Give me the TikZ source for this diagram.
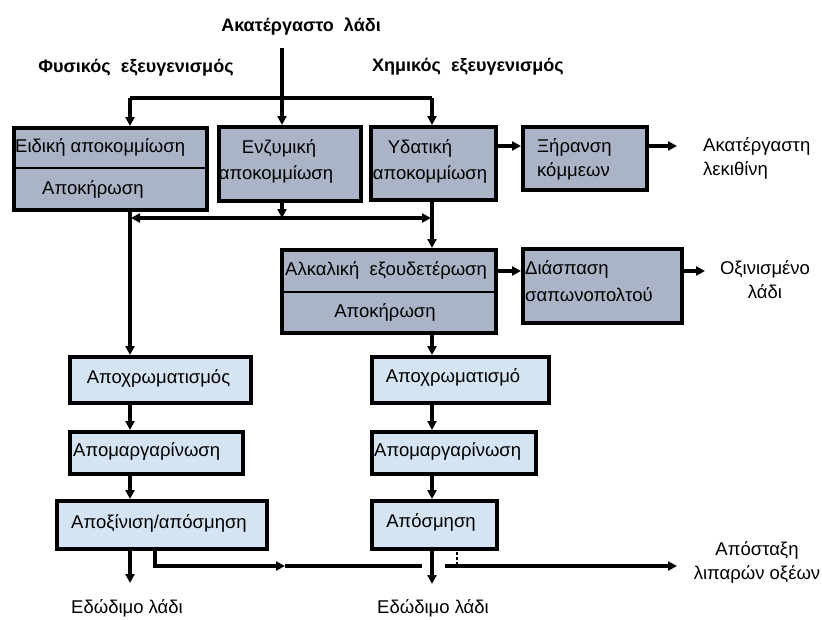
\documentclass[tikz,border=0pt]{standalone}
\usepackage{fontspec}
\setmainfont{Liberation Sans}
\usetikzlibrary{arrows.meta}
\definecolor{darkfill}{RGB}{170,180,198}
\definecolor{lightfill}{RGB}{212,228,242}
\tikzset{
  darkbox/.style={draw=black, line width=3.5pt, fill=darkfill, inner sep=0pt, anchor=north west},
  lightbox/.style={draw=black, line width=3.5pt, fill=lightfill, inner sep=0pt, anchor=north west},
  lbl/.style={inner sep=0pt, font=\fontsize{18.5}{24}\selectfont},
  title/.style={inner sep=0pt, font=\fontsize{18}{22}\selectfont\bfseries},
  conn/.style={line width=3.2pt},
  arr/.style={line width=3.2pt, -{Triangle[length=9pt,width=9pt]}},
  dotline/.style={line width=2.4pt, dash pattern=on 2.5pt off 2.5pt},
}
\begin{document}
\begin{tikzpicture}[x=1pt,y=-1pt]
\useasboundingbox (0,0) rectangle (822,619);
% titles
\node[title] (tin) at (301,27) {Ακατέργαστο\ \ λάδι};
\node[title] (tphys) at (136,68) {Φυσικός\ \ εξευγενισμός};
\node[title] (tchem) at (468,67) {Χημικός\ \ εξευγενισμός};
% boxes
\node[darkbox, minimum width=193pt, minimum height=82pt] (B1) at (12,126) {};
\node[darkbox, minimum width=142pt, minimum height=74pt] (B2) at (217,125) {};
\node[darkbox, minimum width=125pt, minimum height=73pt] (B3) at (369,125) {};
\node[darkbox, minimum width=124pt, minimum height=63pt] (B4) at (521,125) {};
\node[darkbox, minimum width=214pt, minimum height=83pt] (B5) at (280,248) {};
\node[darkbox, minimum width=159pt, minimum height=74pt] (B6) at (521,247) {};
\node[lightbox, minimum width=181pt, minimum height=46pt] (B7) at (68,355) {};
\node[lightbox, minimum width=173pt, minimum height=42pt] (B8) at (68,430) {};
\node[lightbox, minimum width=210pt, minimum height=48pt] (B9) at (55,499) {};
\node[lightbox, minimum width=177pt, minimum height=46pt] (B10) at (370,355) {};
\node[lightbox, minimum width=164pt, minimum height=42pt] (B11) at (370,430) {};
\node[lightbox, minimum width=125pt, minimum height=48pt] (B12) at (370,499) {};
% dividers
\draw[line width=2.6pt] (B1.west |- 0,168) -- (B1.east |- 0,168);
\draw[line width=2.6pt] (B5.west |- 0,292) -- (B5.east |- 0,292);
% box texts
\node[lbl, anchor=west] (t1a) at (15,147) {Ειδική αποκομμίωση};
\node[lbl, anchor=west] (t1b) at (42,189) {Αποκήρωση};
\node[lbl] (t2a) at (279,148) {Ενζυμική};
\node[lbl] (t2b) at (276,174) {αποκομμίωση};
\node[lbl] (t3a) at (420,148) {Υδατική};
\node[lbl] (t3b) at (430,174) {αποκομμίωση};
\node[lbl, anchor=west] (t4a) at (537,147) {Ξήρανση};
\node[lbl, anchor=west] (t4b) at (537,171) {κόμμεων};
\node[lbl, anchor=west] (t5a) at (285,270) {Αλκαλική\ \ εξουδετέρωση};
\node[lbl] (t5b) at (385,312) {Αποκήρωση};
\node[lbl, anchor=west] (t6a) at (525,269) {Διάσπαση};
\node[lbl, anchor=west] (t6b) at (525,295) {σαπωνοπολτού};
\node[lbl] (t7) at (158.5,378) {Αποχρωματισμός};
\node[lbl, anchor=west] (t8) at (73,451) {Απομαργαρίνωση};
\node[lbl] (t9) at (159,523) {Αποξίνιση/απόσμηση};
\node[lbl] (t10) at (453,377) {Αποχρωματισμό};
\node[lbl, anchor=west] (t11) at (374,451) {Απομαργαρίνωση};
\node[lbl] (t12) at (431,522) {Απόσμηση};
% outside labels
\node[lbl, anchor=west, align=left] (oLec) at (703,158) {Ακατέργαστη\\λεκιθίνη};
\node[lbl, align=center] (oAcid) at (765,280) {Οξινισμένο\\λάδι};
\node[lbl] (oEd1) at (127,608) {Εδώδιμο λάδι};
\node[lbl] (oEd2) at (433,608) {Εδώδιμο λάδι};
\node[lbl, align=center] (oDist) at (757,562) {Απόσταξη\\λιπαρών οξέων};
% coordinates
\coordinate (inTop) at (282,48);
\coordinate (splitL) at (130,98);
\coordinate (splitM) at (282,98);
\coordinate (splitR) at (432,98);
\coordinate (joinL) at (130,218);
\coordinate (joinM) at (282,218);
\coordinate (joinR) at (432,218);
\coordinate (lecEnd) at (677,146);
\coordinate (acidEnd) at (705,271);
\coordinate (ed1End) at (130,583);
\coordinate (ed2End) at (432,584);
\coordinate (brTop) at (155,547);
\coordinate (brCorner) at (155,566);
\coordinate (brMid) at (285,566);
\coordinate (gapL) at (422,566);
\coordinate (gapR) at (445,566);
\coordinate (distEnd) at (677,566);
\coordinate (dotTop) at (457,547);
\coordinate (dotBot) at (457,566);
% connectors top
\draw[arr] (inTop) -- (inTop |- B2.north);
\draw[conn] (splitL) -- (splitR);
\draw[arr] (splitL) -- (splitL |- B1.north);
\draw[arr] (splitR) -- (splitR |- B3.north);
\draw[arr] (B3.east |- 0,146) -- (B4.west |- 0,146);
\draw[arr] (B4.east |- 0,146) -- (lecEnd);
% middle
\draw[arr] (joinM |- B2.south) -- (joinM);
\draw[arr] (joinM) -- ([xshift=1pt]joinL);
\draw[arr] (joinM) -- ([xshift=-1pt]joinR);
\draw[conn] (joinL |- B1.south) -- (joinL);
\draw[conn] (joinR |- B3.south) -- (joinR);
\draw[arr] (joinR) -- (joinR |- B5.north);
\draw[arr] (B5.east |- 0,271) -- (B6.west |- 0,271);
\draw[arr] (B6.east |- 0,271) -- (acidEnd);
% left column
\draw[arr] (joinL) -- (joinL |- B7.north);
\draw[arr] (joinL |- B7.south) -- (joinL |- B8.north);
\draw[arr] (joinL |- B8.south) -- (joinL |- B9.north);
\draw[arr] (joinL |- B9.south) -- (ed1End);
% right column
\draw[arr] (joinR |- B5.south) -- (joinR |- B10.north);
\draw[arr] (joinR |- B10.south) -- (joinR |- B11.north);
\draw[arr] (joinR |- B11.south) -- (joinR |- B12.north);
\draw[arr] (joinR |- B12.south) -- (ed2End);
% branch to distillation
\draw[arr] (brTop) -- (brCorner) -- (brMid);
\draw[conn] (brMid) -- (gapL);
\draw[arr] (gapR) -- (distEnd);
\draw[dotline] (dotTop) -- (dotBot);
\end{tikzpicture}
\end{document}
